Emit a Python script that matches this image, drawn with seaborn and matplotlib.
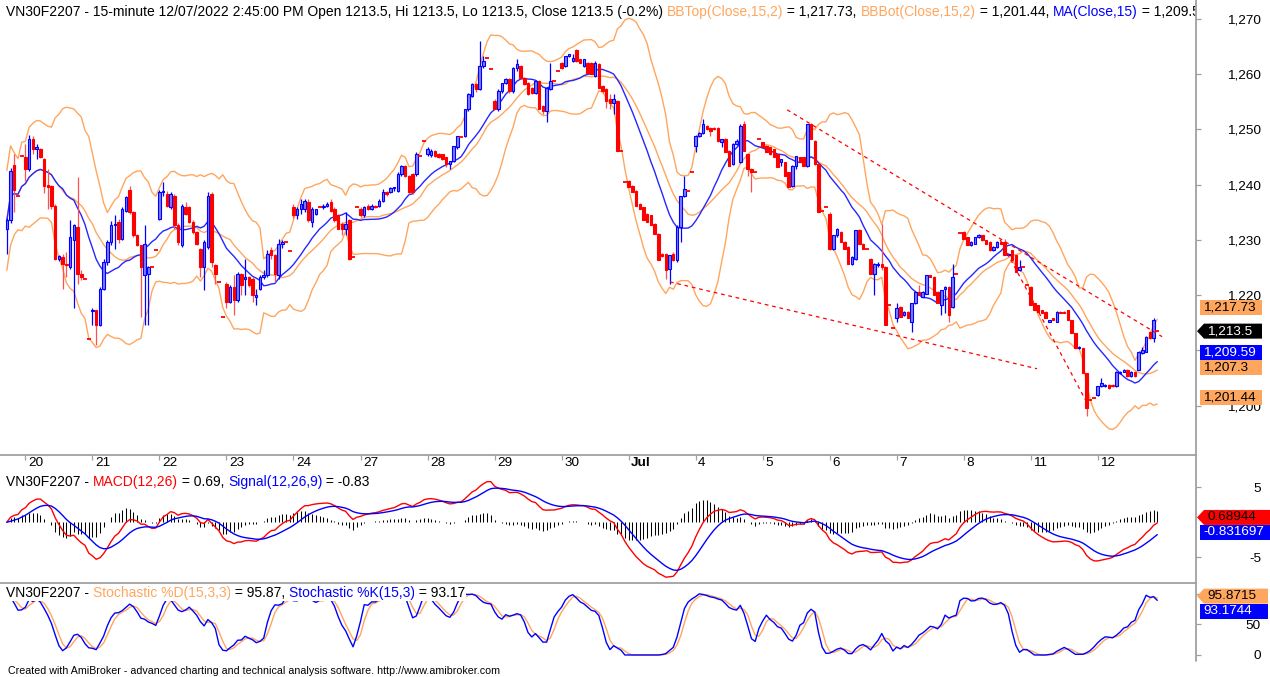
import numpy as np
import pandas as pd
import matplotlib
matplotlib.use("Agg")
import matplotlib.pyplot as plt
from matplotlib.transforms import ScaledTranslation, blended_transform_factory
from matplotlib.patches import Polygon
from matplotlib.lines import Line2D
import seaborn as sns

# VN30F2207 15-minute bars: last 4 bars of 17 Jun, then 18 bars per day (ATO, 16 bars, ATC)
day_labels = ["20", "21", "22", "23", "24", "27", "28", "29", "30", "Jul",
              "4", "5", "6", "7", "8", "11", "12"]
n_prior = 4
bars_per_day = 18

opens = [
    1232.0, 1233.5, 1243.5, 1238.0,
    1245.2, 1245.0, 1242.8, 1248.2, 1246.4, 1246.4, 1244.6, 1240.0, 1239.8, 1236.2, 1226.6, 1226.9, 1225.7, 1225.1, 1230.0, 1232.3, 1223.9, 1223.0,
    1212.1, 1217.1, 1217.3, 1214.6, 1221.2, 1226.0, 1229.6, 1232.6, 1233.2, 1230.2, 1235.3, 1239.0, 1235.0, 1230.8, 1229.0, 1223.6, 1223.9, 1225.1,
    1228.1, 1233.8, 1238.6, 1238.3, 1236.0, 1238.0, 1232.6, 1229.0, 1235.9, 1235.9, 1233.2, 1231.4, 1228.4, 1225.1, 1228.7, 1238.3, 1225.4, 1222.4,
    1216.1, 1222.1, 1218.8, 1221.5, 1219.1, 1223.9, 1223.0, 1223.3, 1223.0, 1219.6, 1221.2, 1223.3, 1223.6, 1228.1, 1227.2, 1223.6, 1229.3, 1229.6,
    1227.9, 1235.9, 1234.4, 1235.6, 1235.6, 1236.8, 1233.2, 1234.7, 1235.9, 1235.9, 1236.2, 1236.8, 1235.6, 1234.4, 1232.9, 1232.0, 1233.5, 1226.9,
    1235.9, 1235.6, 1234.4, 1236.2, 1235.6, 1236.2, 1236.2, 1237.1, 1238.6, 1238.6, 1239.3, 1238.9, 1241.9, 1243.4, 1241.6, 1241.9, 1241.9, 1245.2,
    1247.9, 1245.5, 1245.3, 1246.1, 1245.5, 1245.5, 1244.9, 1243.7, 1244.3, 1246.7, 1248.5, 1248.8, 1253.6, 1256.0, 1258.1, 1257.2, 1261.4, 1262.9,
    1260.8, 1255.1, 1253.6, 1256.9, 1258.4, 1259.0, 1256.9, 1261.1, 1261.4, 1259.3, 1258.4, 1257.5, 1256.6, 1258.7, 1254.2, 1253.3, 1257.2, 1258.7,
    1260.5, 1262.0, 1261.4, 1263.2, 1262.3, 1264.4, 1262.6, 1261.4, 1262.0, 1262.0, 1259.6, 1261.7, 1257.8, 1257.2, 1255.4, 1254.8, 1255.1, 1246.1,
    1240.4, 1240.7, 1239.8, 1238.9, 1236.5, 1235.9, 1234.7, 1234.4, 1232.9, 1231.1, 1227.5, 1227.5, 1224.8, 1227.5, 1226.3, 1232.3, 1238.0, 1238.9,
    1242.2, 1247.0, 1248.8, 1249.4, 1250.6, 1250.3, 1250.3, 1250.3, 1247.6, 1248.2, 1246.1, 1243.7, 1247.3, 1244.0, 1250.9, 1245.5, 1242.8, 1242.2,
    1248.2, 1247.6, 1247.0, 1246.7, 1246.4, 1245.5, 1244.0, 1244.0, 1242.2, 1239.8, 1243.4, 1244.9, 1244.9, 1243.4, 1250.9, 1247.9, 1243.7, 1235.3,
    1236.0, 1234.7, 1228.4, 1230.8, 1231.4, 1229.6, 1228.7, 1225.7, 1226.6, 1231.7, 1229.3, 1228.4, 1226.6, 1223.9, 1225.4, 1225.7, 1225.1, 1218.2,
    1214.0, 1215.8, 1217.9, 1216.4, 1217.0, 1215.2, 1218.5, 1220.6, 1219.7, 1220.3, 1223.6, 1223.3, 1220.6, 1218.2, 1221.2, 1221.5, 1217.9, 1223.9,
    1231.2, 1231.4, 1230.5, 1229.0, 1229.3, 1230.5, 1230.8, 1229.9, 1229.6, 1228.1, 1228.7, 1229.6, 1229.6, 1227.2, 1228.1, 1227.2, 1224.5, 1225.1,
    1221.8, 1221.5, 1218.5, 1218.2, 1217.3, 1217.0, 1215.2, 1215.8, 1215.2, 1217.0, 1217.0, 1217.3, 1215.5, 1213.1, 1210.4, 1210.4, 1205.9, 1201.1,
    1201.4, 1202.0, 1203.5, 1203.5, 1203.8, 1203.8, 1203.5, 1205.9, 1206.2, 1206.5, 1205.3, 1206.2, 1206.5, 1209.5, 1209.8, 1213.4, 1212.2, 1213.5,
]
highs = [
    1234.0, 1243.0, 1245.5, 1238.0,
    1245.2, 1247.3, 1249.0, 1248.8, 1247.3, 1246.6, 1244.8, 1242.8, 1240.0, 1236.5, 1227.2, 1227.5, 1227.8, 1233.5, 1232.8, 1241.3, 1224.5, 1223.0,
    1212.1, 1217.6, 1217.3, 1221.5, 1226.5, 1230.0, 1233.4, 1234.4, 1233.8, 1236.0, 1238.0, 1239.8, 1235.3, 1231.0, 1229.0, 1232.6, 1225.3, 1225.1,
    1228.1, 1239.0, 1240.4, 1238.9, 1238.6, 1238.3, 1233.0, 1236.5, 1236.8, 1236.2, 1233.5, 1231.6, 1228.6, 1229.9, 1238.6, 1238.6, 1225.7, 1222.4,
    1216.1, 1222.4, 1221.8, 1223.6, 1224.2, 1224.0, 1226.6, 1223.5, 1223.3, 1221.2, 1223.6, 1224.5, 1228.1, 1228.7, 1227.5, 1230.2, 1230.0, 1229.6,
    1227.9, 1236.5, 1235.9, 1237.4, 1237.4, 1237.4, 1236.0, 1235.6, 1236.2, 1236.5, 1236.8, 1237.4, 1235.9, 1234.6, 1233.2, 1235.0, 1233.8, 1226.9,
    1235.9, 1236.0, 1236.2, 1236.5, 1236.4, 1236.3, 1237.4, 1239.2, 1238.8, 1239.6, 1239.6, 1242.2, 1243.6, 1243.6, 1241.8, 1242.0, 1245.8, 1245.2,
    1247.9, 1246.7, 1246.4, 1246.3, 1245.7, 1245.6, 1245.0, 1244.3, 1247.0, 1248.8, 1248.6, 1253.6, 1256.5, 1258.3, 1258.3, 1265.9, 1263.2, 1262.9,
    1260.8, 1255.5, 1257.2, 1258.4, 1259.2, 1259.3, 1261.2, 1262.6, 1261.6, 1259.4, 1258.6, 1257.6, 1258.8, 1258.9, 1254.4, 1257.6, 1262.0, 1258.7,
    1260.5, 1262.2, 1263.2, 1263.5, 1263.5, 1264.5, 1262.7, 1262.6, 1262.1, 1262.1, 1262.3, 1261.9, 1258.0, 1257.4, 1256.3, 1256.3, 1255.3, 1246.1,
    1240.4, 1240.8, 1239.9, 1239.0, 1236.6, 1236.0, 1234.8, 1234.5, 1233.0, 1231.2, 1227.6, 1227.6, 1227.2, 1227.8, 1232.6, 1238.0, 1241.6, 1238.9,
    1242.2, 1249.0, 1249.5, 1251.8, 1250.8, 1250.4, 1250.4, 1250.4, 1248.2, 1248.4, 1246.2, 1247.5, 1248.2, 1250.9, 1251.4, 1245.6, 1243.0, 1242.2,
    1248.2, 1247.7, 1247.1, 1246.8, 1246.5, 1245.6, 1244.6, 1244.1, 1242.3, 1243.5, 1245.2, 1245.0, 1245.0, 1251.0, 1251.2, 1248.0, 1243.8, 1235.3,
    1236.0, 1235.0, 1230.9, 1232.2, 1231.6, 1229.7, 1228.8, 1227.0, 1231.8, 1232.0, 1229.4, 1228.5, 1226.7, 1225.8, 1226.0, 1232.9, 1225.2, 1218.2,
    1214.0, 1218.5, 1218.0, 1217.1, 1217.1, 1218.6, 1220.7, 1221.8, 1220.7, 1223.7, 1223.7, 1223.4, 1220.7, 1221.0, 1221.6, 1221.6, 1225.7, 1223.9,
    1231.2, 1231.6, 1230.6, 1229.7, 1230.6, 1231.0, 1230.9, 1230.0, 1229.7, 1228.8, 1229.7, 1229.7, 1230.2, 1227.6, 1228.2, 1227.3, 1226.3, 1225.1,
    1221.8, 1221.6, 1218.6, 1218.3, 1217.4, 1217.1, 1215.6, 1215.9, 1217.1, 1217.1, 1217.1, 1217.4, 1215.6, 1213.2, 1210.8, 1210.5, 1206.0, 1201.1,
    1201.4, 1203.6, 1205.0, 1203.9, 1203.9, 1203.9, 1206.3, 1206.3, 1206.6, 1206.6, 1206.3, 1206.3, 1209.9, 1210.7, 1212.6, 1213.5, 1215.9, 1213.5,
]
lows = [
    1227.5, 1233.0, 1235.0, 1238.0,
    1245.2, 1240.7, 1242.5, 1245.5, 1244.6, 1244.8, 1238.5, 1235.6, 1235.5, 1226.3, 1226.2, 1221.2, 1223.3, 1224.8, 1217.6, 1222.1, 1222.8, 1223.0,
    1212.1, 1214.6, 1211.0, 1214.4, 1220.9, 1225.5, 1229.0, 1228.4, 1229.5, 1229.9, 1235.0, 1234.7, 1230.5, 1228.8, 1216.1, 1214.6, 1214.6, 1225.1,
    1228.1, 1233.5, 1238.0, 1235.9, 1235.6, 1232.0, 1229.0, 1228.7, 1234.4, 1233.0, 1231.1, 1229.0, 1223.3, 1220.9, 1228.4, 1225.0, 1222.0, 1222.4,
    1216.1, 1217.6, 1218.5, 1216.4, 1218.8, 1220.0, 1220.0, 1221.5, 1218.8, 1218.2, 1220.9, 1223.0, 1223.3, 1226.6, 1222.4, 1223.0, 1228.5, 1229.6,
    1227.9, 1234.0, 1233.8, 1234.7, 1235.0, 1233.2, 1232.3, 1234.4, 1235.6, 1235.6, 1236.0, 1235.0, 1233.2, 1232.0, 1230.8, 1230.8, 1226.3, 1226.9,
    1235.9, 1234.2, 1234.2, 1235.4, 1235.4, 1235.8, 1236.0, 1236.8, 1238.0, 1238.4, 1238.8, 1238.7, 1241.6, 1241.4, 1238.3, 1238.3, 1241.6, 1245.2,
    1247.9, 1245.2, 1245.0, 1245.0, 1244.8, 1244.4, 1243.1, 1242.8, 1244.0, 1246.5, 1248.3, 1248.6, 1253.3, 1255.8, 1256.8, 1257.0, 1261.0, 1262.9,
    1260.8, 1253.6, 1253.3, 1256.6, 1258.2, 1256.6, 1256.6, 1260.6, 1259.0, 1258.0, 1256.2, 1256.4, 1256.4, 1253.6, 1252.8, 1251.3, 1257.0, 1258.7,
    1260.5, 1260.9, 1261.2, 1263.0, 1262.1, 1262.2, 1262.0, 1261.2, 1260.2, 1259.9, 1259.5, 1257.5, 1256.6, 1253.9, 1253.6, 1252.7, 1246.1, 1246.1,
    1240.4, 1239.5, 1238.6, 1236.2, 1235.6, 1233.5, 1233.2, 1232.6, 1231.1, 1226.3, 1226.9, 1223.0, 1222.1, 1226.1, 1226.0, 1229.6, 1237.8, 1238.9,
    1242.2, 1245.8, 1248.6, 1249.2, 1249.8, 1248.8, 1249.8, 1247.6, 1246.7, 1245.8, 1243.3, 1243.6, 1247.2, 1243.8, 1246.0, 1241.6, 1238.6, 1242.2,
    1248.2, 1246.7, 1245.8, 1245.4, 1244.9, 1243.1, 1243.4, 1241.6, 1239.5, 1239.5, 1242.8, 1244.0, 1243.4, 1243.2, 1248.2, 1243.6, 1235.0, 1235.3,
    1236.0, 1228.2, 1228.2, 1230.5, 1229.6, 1228.4, 1225.7, 1225.4, 1226.4, 1229.3, 1228.4, 1228.3, 1223.9, 1220.0, 1225.0, 1224.6, 1214.6, 1218.2,
    1214.0, 1215.2, 1216.1, 1216.3, 1215.8, 1213.4, 1218.4, 1220.0, 1219.6, 1220.2, 1223.3, 1220.0, 1218.5, 1216.4, 1216.7, 1215.2, 1217.6, 1223.9,
    1231.2, 1230.1, 1229.0, 1228.9, 1229.2, 1230.4, 1229.8, 1229.2, 1228.0, 1228.0, 1228.6, 1229.2, 1227.2, 1227.0, 1226.3, 1224.2, 1224.3, 1225.1,
    1221.8, 1218.2, 1217.3, 1217.0, 1216.7, 1215.8, 1215.1, 1215.5, 1215.1, 1216.7, 1216.7, 1215.5, 1213.1, 1210.4, 1210.3, 1205.9, 1198.1, 1201.1,
    1201.4, 1201.8, 1203.4, 1203.4, 1203.1, 1203.4, 1203.4, 1205.8, 1206.1, 1205.2, 1205.2, 1205.2, 1206.4, 1209.4, 1209.7, 1212.1, 1211.5, 1213.5,
]
closes = [
    1233.5, 1242.5, 1239.0, 1238.0,
    1245.2, 1242.8, 1248.2, 1246.4, 1246.7, 1245.0, 1239.8, 1239.5, 1236.2, 1226.6, 1227.0, 1225.7, 1225.4, 1230.5, 1232.6, 1223.9, 1223.2, 1223.0,
    1212.1, 1217.4, 1214.6, 1221.2, 1226.0, 1229.6, 1232.6, 1232.9, 1230.2, 1235.6, 1237.7, 1235.0, 1230.8, 1229.0, 1225.1, 1229.3, 1225.1, 1225.1,
    1228.1, 1238.6, 1238.9, 1236.2, 1238.3, 1232.6, 1229.6, 1236.2, 1234.7, 1233.2, 1231.4, 1229.3, 1225.1, 1229.6, 1238.0, 1226.0, 1223.9, 1222.4,
    1216.1, 1218.8, 1221.5, 1219.1, 1223.9, 1221.8, 1223.2, 1221.8, 1220.0, 1220.0, 1223.3, 1223.6, 1227.5, 1227.2, 1223.9, 1229.3, 1229.6, 1229.6,
    1227.9, 1234.4, 1235.6, 1236.5, 1237.1, 1233.5, 1235.6, 1235.6, 1235.9, 1236.2, 1236.5, 1235.3, 1233.5, 1232.0, 1232.0, 1232.9, 1226.6, 1226.9,
    1235.9, 1234.4, 1235.9, 1235.6, 1236.2, 1235.9, 1237.1, 1238.6, 1238.3, 1239.3, 1239.5, 1241.9, 1243.4, 1241.6, 1238.6, 1238.6, 1245.5, 1245.2,
    1247.9, 1246.4, 1246.1, 1245.2, 1244.9, 1244.6, 1243.7, 1244.3, 1247.0, 1248.8, 1248.5, 1253.6, 1256.3, 1258.1, 1257.2, 1261.4, 1262.3, 1262.9,
    1260.8, 1253.6, 1256.9, 1258.4, 1259.0, 1256.9, 1261.1, 1261.7, 1259.3, 1258.1, 1256.3, 1256.6, 1258.7, 1253.6, 1253.3, 1257.5, 1258.7, 1258.7,
    1260.5, 1261.1, 1263.2, 1263.5, 1262.9, 1262.3, 1262.0, 1262.6, 1260.2, 1259.9, 1262.0, 1257.5, 1256.9, 1255.1, 1254.8, 1255.4, 1246.1, 1246.1,
    1240.4, 1239.5, 1238.6, 1236.2, 1235.6, 1233.5, 1233.2, 1232.6, 1231.1, 1226.3, 1227.0, 1224.5, 1227.2, 1226.3, 1232.3, 1238.0, 1239.2, 1238.9,
    1242.2, 1248.8, 1249.4, 1250.9, 1250.0, 1249.7, 1250.0, 1247.9, 1248.2, 1245.8, 1243.4, 1247.3, 1247.9, 1250.6, 1246.1, 1242.8, 1242.2, 1242.2,
    1248.2, 1246.7, 1245.8, 1245.5, 1244.9, 1243.1, 1244.6, 1241.6, 1239.5, 1243.4, 1245.2, 1244.0, 1243.4, 1250.9, 1248.2, 1243.7, 1235.0, 1235.3,
    1236.0, 1228.4, 1230.8, 1232.0, 1229.6, 1228.4, 1225.7, 1226.9, 1231.7, 1229.3, 1228.4, 1228.4, 1223.9, 1225.7, 1225.7, 1225.1, 1214.6, 1218.2,
    1214.0, 1217.6, 1216.1, 1217.0, 1215.8, 1218.5, 1220.6, 1220.0, 1220.6, 1223.6, 1223.3, 1220.0, 1218.5, 1220.9, 1221.5, 1216.4, 1223.3, 1223.9,
    1231.2, 1230.2, 1229.0, 1229.6, 1230.5, 1230.8, 1229.9, 1229.3, 1228.1, 1228.7, 1229.6, 1229.3, 1227.2, 1227.5, 1226.3, 1224.2, 1225.1, 1225.1,
    1221.8, 1218.2, 1217.3, 1217.0, 1216.7, 1215.8, 1215.5, 1215.5, 1217.0, 1216.7, 1216.7, 1215.5, 1213.1, 1210.4, 1210.7, 1205.9, 1199.6, 1201.1,
    1201.4, 1203.5, 1204.1, 1203.8, 1203.2, 1203.5, 1206.2, 1206.2, 1206.5, 1205.3, 1206.2, 1205.3, 1209.8, 1210.1, 1212.5, 1212.2, 1215.5, 1213.5,
]

# hand-drawn dashed trend lines (bar index, price)
trend_start_bar = [209.6, 178.1, 266.8]
trend_start_price = [1253.5, 1222.4, 1230.0]
trend_end_bar = [310.3, 276.7, 290.4]
trend_end_price = [1212.5, 1206.7, 1200.2]

# last values as printed in the axis tags
price_tag_values = [1217.73, 1213.5, 1209.59, 1207.3, 1201.44]
macd_tag_values = [0.68944, -0.831697]
stoch_tag_values = [95.8715, 93.1744]

assert len(opens) == len(highs) == len(lows) == len(closes) == n_prior + bars_per_day * len(day_labels)

ORANGE = "#FFA65E"
BLUE = "#0000FF"
RED = "#FF0000"
GRAY = "#A0A0A0"
FS = 9.7
FS_TITLE = 10.0

# ---- indicators (AmiBroker definitions) ----
df = pd.DataFrame({"o": opens, "h": highs, "l": lows, "c": closes})
df["bar"] = np.arange(len(df))
df["ma15"] = df["c"].rolling(15, min_periods=1).mean()
sd = df["c"].rolling(15, min_periods=2).std(ddof=0).bfill()
df["bbtop"] = df["ma15"] + 2 * sd
df["bbbot"] = df["ma15"] - 2 * sd
df["ma20"] = df["c"].rolling(20, min_periods=1).mean()
df["macd_line"] = df["c"].ewm(span=12, adjust=False).mean() - df["c"].ewm(span=26, adjust=False).mean()
df["signal_line"] = df["macd_line"].ewm(span=9, adjust=False).mean()
df["macd_hist"] = df["macd_line"] - df["signal_line"]
ll = df["l"].rolling(15, min_periods=1).min()
hh = df["h"].rolling(15, min_periods=1).max()
fastk = (100 * (df["c"] - ll) / (hh - ll).replace(0, np.nan)).fillna(50)
df["stoch_k"] = fastk.rolling(3, min_periods=1).mean()
df["stoch_d"] = df["stoch_k"].rolling(3, min_periods=1).mean()

sns.set_theme(style="white")
plt.rcParams["font.family"] = ["Liberation Sans", "DejaVu Sans"]

W, H, DPI = 1270, 677, 100
AX_R = 1196
fig = plt.figure(figsize=(W / DPI, H / DPI), dpi=DPI)
fig.patch.set_facecolor("white")
xlim = (-1.83, 319.4)


def pane(top, bottom, ylim, ticks, labels):
    ax = fig.add_axes([0, 1 - bottom / H, AX_R / W, (bottom - top) / H])
    for s in ax.spines.values():
        s.set_visible(False)
    ax.set_facecolor("white")
    ax.set_xlim(*xlim)
    ax.set_ylim(*ylim)
    ax.set_xticks([])
    ax.yaxis.tick_right()
    ax.set_yticks(ticks)
    ax.set_yticklabels(labels, ha="right")
    ax.tick_params(axis="y", right=True, left=False, length=3.6, width=0.9,
                   color=GRAY, pad=43.2, labelsize=FS, labelcolor="black")
    return ax


# labels that sit under the value tags are left blank, as in AmiBroker
price_ticks = list(range(1200, 1271, 10))
ax_p = pane(0, 454.5, (1191.2, 1273.35), price_ticks,
            ["" if v == 1210 else f"{v:,}" for v in price_ticks])
ax_m = pane(454.5, 583, (-8.71, 9.71), [-5, 5], ["-5", "5"])
ax_s = pane(583, 661, (-9.8, 117.3), [0, 50, 100], ["0", "50", ""])

# ---- price pane ----
for col, color in [("bbtop", ORANGE), ("bbbot", ORANGE), ("ma20", ORANGE), ("ma15", "#2626FF")]:
    sns.lineplot(data=df, x="bar", y=col, ax=ax_p, color=color, linewidth=1.0,
                 legend=False, zorder=2)

o, h, l, c, x = df["o"].values, df["h"].values, df["l"].values, df["c"].values, df["bar"].values
hi = np.maximum(h, np.maximum(o, c))
lo = np.minimum(l, np.minimum(o, c))
up = c > o
dn = c < o
flat = c == o
ax_p.vlines(x[up], lo[up], hi[up], color=BLUE, lw=0.9, zorder=3)
ax_p.vlines(x[dn], lo[dn], hi[dn], color="#FF5050", lw=0.9, zorder=3)
ax_p.bar(x[up], c[up] - o[up], bottom=o[up], width=0.66, color="#7D7DFF",
         edgecolor=BLUE, linewidth=0.8, zorder=4)
ax_p.bar(x[dn], o[dn] - c[dn], bottom=c[dn], width=0.66, color=RED,
         edgecolor=RED, linewidth=0.8, zorder=4)
ax_p.hlines(c[flat], x[flat] - 0.55, x[flat] + 0.55, color=RED, lw=1.3, zorder=4)

for xs, ys, xe, ye in zip(trend_start_bar, trend_start_price, trend_end_bar, trend_end_price):
    ax_p.plot([xs, xe], [ys, ye], color=RED, lw=0.9, linestyle=(0, (3, 3)), zorder=5)

# ---- MACD pane ----
ax_m.vlines(x, 0, df["macd_hist"].values, color="black", lw=0.75, zorder=2)
sns.lineplot(data=df, x="bar", y="macd_line", ax=ax_m, color=RED, linewidth=1.0, legend=False, zorder=3)
sns.lineplot(data=df, x="bar", y="signal_line", ax=ax_m, color=BLUE, linewidth=1.0, legend=False, zorder=3)

# ---- Stochastic pane ----
sns.lineplot(data=df, x="bar", y="stoch_d", ax=ax_s, color=ORANGE, linewidth=1.0, legend=False, zorder=2)
sns.lineplot(data=df, x="bar", y="stoch_k", ax=ax_s, color=BLUE, linewidth=1.0, legend=False, zorder=3)

for ax in (ax_p, ax_m, ax_s):
    ax.set_xlabel("")
    ax.set_ylabel("")
    ax.set_xlim(*xlim)

# ---- date axis at the top of the MACD pane ----
day_start = [n_prior + bars_per_day * k for k in range(len(day_labels))]
btr = blended_transform_factory(ax_m.transData, ax_m.transAxes)
ax_m.vlines([d + 1 for d in day_start], 1 - 5 / 128.5, 1, transform=btr, color=GRAY, lw=0.9)
for d, lab in zip(day_start, day_labels):
    ax_m.text(d + 1.7, 1, lab, transform=btr + ScaledTranslation(0, -8.5 / DPI, fig.dpi_scale_trans),
              ha="left", va="center", fontsize=FS,
              fontweight="bold" if lab == "Jul" else "normal", color="black")

# ---- frame lines ----
fig.add_artist(Line2D([AX_R / W, AX_R / W], [1, 1 - 661 / H], transform=fig.transFigure, color=GRAY, lw=1.3))
for yy in (454.5, 583):
    fig.add_artist(Line2D([0, AX_R / W], [1 - yy / H, 1 - yy / H], transform=fig.transFigure, color=GRAY, lw=1.3))


# ---- multicoloured pane titles ----
def rich_title(ax, pieces, y_px, bg=None):
    renderer = fig.canvas.get_renderer()
    xpos = 6
    for txt, col in pieces:
        tr = ax.transAxes + ScaledTranslation(xpos / DPI, -y_px / DPI, fig.dpi_scale_trans)
        t = ax.text(0, 1, txt, transform=tr, color=col, fontsize=FS_TITLE, ha="left", va="center",
                    clip_on=True, zorder=8)
        if bg:
            t.set_bbox(dict(fc=bg, ec="none", pad=0.6))
        xpos += t.get_window_extent(renderer).width


rich_title(ax_p, [
    ("VN30F2207 - 15-minute 12/07/2022 2:45:00 PM Open 1213.5, Hi 1213.5, Lo 1213.5, Close 1213.5 (-0.2%) ", "black"),
    ("BBTop(Close,15,2)", ORANGE), (" = 1,217.73, ", "black"),
    ("BBBot(Close,15,2)", ORANGE), (" = 1,201.44, ", "black"),
    ("MA(Close,15)", BLUE), (" = 1,209.59", "black")], 12)
rich_title(ax_m, [("VN30F2207 - ", "black"), ("MACD(12,26)", RED), (" = 0.69, ", "black"),
                  ("Signal(12,26,9)", BLUE), (" = -0.83", "black")], 27.5)
rich_title(ax_s, [("VN30F2207 - ", "black"), ("Stochastic %D(15,3,3)", ORANGE), (" = 95.87, ", "black"),
                  ("Stochastic %K(15,3)", BLUE), (" = 93.17", "black")], 10, bg="white")


# ---- value tags on the right axis ----
def value_tags(ax, values, texts, faces, tcolors, arrows, right):
    order = sorted(range(len(values)), key=lambda i: -values[i])
    prev = None
    for i in order:
        ytop = H - ax.transData.transform((0, values[i]))[1]
        if prev is not None and ytop < prev + 15:
            ytop = prev + 15
        prev = ytop
        yb = H - ytop
        if arrows[i]:
            pts = [(1197, yb), (1204, yb + 7.5), (right, yb + 7.5), (right, yb - 7.5), (1204, yb - 7.5)]
            tx = 1207
        else:
            pts = [(1200, yb + 7.5), (right, yb + 7.5), (right, yb - 7.5), (1200, yb - 7.5)]
            tx = 1203
        fig.add_artist(Polygon([(px / W, py / H) for px, py in pts], closed=True,
                               transform=fig.transFigure, fc=faces[i], ec="none", zorder=5))
        fig.text(tx / W, yb / H, texts[i], fontsize=FS, color=tcolors[i], ha="left", va="center", zorder=6)


value_tags(ax_p, price_tag_values, [f"{v:,}" for v in price_tag_values],
           [ORANGE, "black", BLUE, ORANGE, ORANGE], ["black", "white", "white", "black", "black"],
           [False, True, False, False, False], 1262)
value_tags(ax_m, macd_tag_values, [str(v) for v in macd_tag_values],
           [RED, BLUE], ["black", "white"], [True, False], 1272)
value_tags(ax_s, stoch_tag_values, [str(v) for v in stoch_tag_values],
           [ORANGE, BLUE], ["black", "white"], [True, False], 1268)

fig.text(8 / W, 1 - 671 / H,
         "Created with AmiBroker - advanced charting and technical analysis software. http://www.amibroker.com",
         fontsize=7.7, color="black", ha="left", va="center")

fig.savefig("out.png", dpi=DPI, facecolor="white")
